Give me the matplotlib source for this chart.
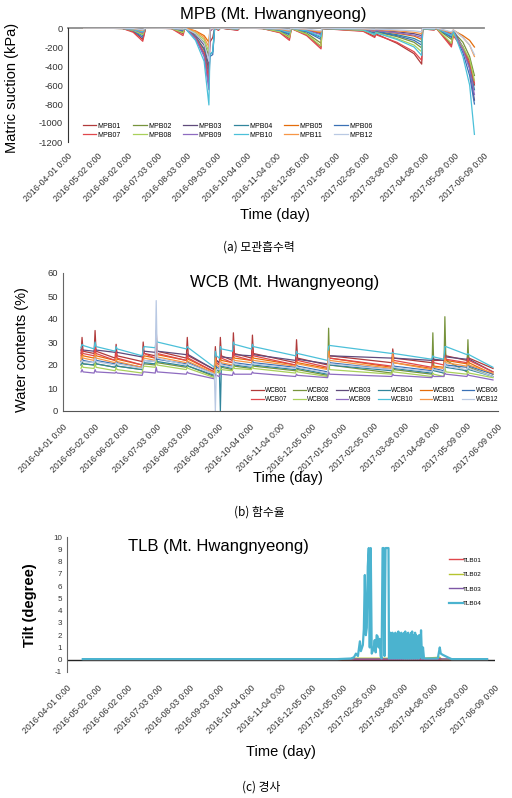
import matplotlib
matplotlib.use("Agg")
import matplotlib.pyplot as plt
import pandas as pd

plt.rcParams['font.family'] = ['Liberation Sans', 'Noto Sans CJK KR', 'DejaVu Sans']

# x축 눈금 (엑셀 날짜축)
tick_dates = ['2016-04-01', '2016-05-02', '2016-06-02', '2016-07-03', '2016-08-03',
              '2016-09-03', '2016-10-04', '2016-11-04', '2016-12-05', '2017-01-05',
              '2017-02-05', '2017-03-08', '2017-04-08', '2017-05-09', '2017-06-09']
tick_labels = [d + ' 0:00' for d in tick_dates]

# ---- (a) MPB 모관흡수력 (kPa) ----
mpb_dates = ['2016-04-17', '2016-05-28', '2016-06-08', '2016-06-18', '2016-06-21', '2016-07-18',
             '2016-07-30', '2016-08-01', '2016-08-12', '2016-08-21', '2016-08-26', '2016-08-27',
             '2016-08-30', '2016-09-01', '2016-09-05', '2016-09-07', '2016-09-25', '2016-09-27',
             '2016-10-21', '2016-11-08', '2016-11-18', '2016-11-20', '2016-12-06', '2016-12-21',
             '2016-12-22', '2017-02-03', '2017-02-15', '2017-02-16', '2017-03-10', '2017-03-28',
             '2017-04-05', '2017-04-06', '2017-04-18', '2017-04-20', '2017-05-06', '2017-05-08',
             '2017-05-18', '2017-05-25', '2017-05-30']
mpb01 = [0, -5, -35, -120, 0, -5, -60, 0, -90, -220, -450, -150, -100, 0, -20, 0, -20, 0, -5, -45,
         -110, -5, -70, -200, -5, -30, -90, -60, -160, -270, -380, -10, -20, 0, -180, -60, -200, -350, -600]
mpb02 = [0, -5, -20, -60, 0, -5, -40, 0, -60, -150, -300, -20, 0, 0, -15, 0, -15, 0, -5, -35,
         -90, -5, -55, -160, -5, -25, -60, -40, -90, -150, -210, -10, -15, 0, -120, -40, -150, -300, -500]
mpb03 = [0, -3, -15, -40, 0, -3, -15, 0, -70, -180, -400, -30, 0, 0, -10, 0, -10, 0, -3, -15,
         -40, -3, -20, -60, -3, -15, -30, -25, -40, -60, -80, -5, -10, 0, -60, -30, -200, -420, -760]
mpb04 = [0, -4, -25, -80, 0, -4, -20, 0, -90, -230, -500, -280, -250, 0, -15, 0, -15, 0, -4, -25,
         -60, -4, -35, -100, -4, -20, -50, -35, -70, -110, -150, -8, -15, 0, -90, -40, -220, -400, -650]
mpb05 = [0, -3, -10, -30, 0, -3, -15, 0, -30, -80, -150, -20, 0, 0, -8, 0, -8, 0, -3, -12,
         -30, -3, -18, -50, -3, -15, -35, -25, -55, -85, -120, -5, -10, 0, -50, -25, -80, -130, -200]
mpb06 = [0, -5, -30, -100, 0, -5, -30, 0, -110, -280, -600, -300, -280, 0, -20, 0, -20, 0, -5, -30,
         -70, -5, -40, -120, -5, -25, -60, -40, -80, -130, -180, -10, -15, 0, -100, -40, -260, -500, -800]
mpb07 = [0, -5, -45, -140, 0, -6, -80, 0, -100, -260, -550, -40, 0, 0, -25, 0, -25, 0, -6, -50,
         -130, -6, -80, -220, -6, -35, -100, -70, -150, -250, -340, -10, -20, 0, -200, -80, -220, -380, -580]
mpb08 = [0, -5, -25, -70, 0, -5, -50, 0, -50, -120, -250, -20, 0, 0, -15, 0, -15, 0, -5, -40,
         -100, -5, -65, -190, -5, -25, -70, -45, -110, -180, -250, -10, -15, 0, -160, -60, -200, -330, -550]
mpb09 = [0, -4, -18, -50, 0, -4, -20, 0, -110, -300, -650, -40, 0, 0, -10, 0, -10, 0, -4, -18,
         -40, -4, -25, -70, -4, -15, -35, -25, -50, -75, -100, -6, -10, 0, -70, -30, -230, -430, -700]
mpb10 = [0, -4, -15, -40, 0, -4, -15, 0, -130, -350, -810, -280, -250, 0, -10, 0, -10, 0, -4, -20,
         -50, -4, -30, -90, -4, -20, -70, -50, -120, -200, -290, -8, -15, 0, -80, -30, -300, -600, -1120]
mpb11 = [0, -3, -8, -25, 0, -3, -10, 0, -35, -100, -200, -15, 0, 0, -6, 0, -6, 0, -3, -12,
         -30, -3, -15, -40, -3, -10, -20, -15, -30, -45, -60, -4, -8, 0, -50, -20, -100, -180, -300]
mpb12 = [0, -2, -6, -20, 0, -2, -10, 0, -60, -160, -350, -15, 0, 0, -5, 0, -5, 0, -2, -8,
         -20, -2, -12, -30, -2, -8, -15, -12, -20, -30, -40, -3, -6, 0, -40, -20, -100, -180, -280]

# ---- (b) WCB 함수율 (%) ----
wcb_dates = ['2016-04-19', '2016-04-20', '2016-04-21', '2016-05-02', '2016-05-03', '2016-05-04',
             '2016-05-23', '2016-05-24', '2016-05-25', '2016-06-19', '2016-06-20', '2016-06-21',
             '2016-07-02', '2016-07-03', '2016-07-04', '2016-08-02', '2016-08-03', '2016-08-04',
             '2016-08-30', '2016-08-31', '2016-09-01', '2016-09-04', '2016-09-05', '2016-09-06',
             '2016-09-17', '2016-09-18', '2016-09-19', '2016-10-06', '2016-10-07', '2016-10-08',
             '2016-11-19', '2016-11-20', '2016-11-21', '2016-12-21', '2016-12-22', '2016-12-23',
             '2017-02-23', '2017-02-24', '2017-02-25', '2017-04-04', '2017-04-05', '2017-04-06',
             '2017-04-16', '2017-04-17', '2017-04-18', '2017-05-09', '2017-05-10', '2017-05-11',
             '2017-06-04']
wcb01 = [25, 32, 26, 25, 35, 26, 23, 29, 24, 21.5, 30, 25, 24, 35, 26, 23, 32, 24, 18, 28, 22, 21, 32, 24,
         22, 34, 25, 23, 33, 25, 21, 31, 23, 20, 25, 24, 21, 27, 23, 21, 24, 22, 22, 26, 24, 22, 25, 23, 18.5]
wcb02 = [20, 22, 20.5, 20, 23, 20.5, 19, 21, 19.5, 18, 20, 20.5, 20, 23, 21, 19, 20, 19.5, 15, 20, 18, 17, 20, 19,
         18, 21, 19.5, 18.5, 20, 19.5, 17.5, 19, 18, 15.5, 36, 20, 16.5, 22, 18, 16, 34, 18, 16.5, 41, 22, 17, 31, 19, 15]
wcb03 = [26.5, 27, 26.5, 26, 27, 26.5, 25.5, 26, 25.5, 23.5, 25, 26, 25.5, 27, 26, 24.5, 25, 24.5, 18, 23, 22, 21,
         24, 23.5, 23, 25, 24.5, 24, 25, 24.5, 22, 23, 22.5, 20.5, 24, 24, 23, 23.5, 23, 22, 23, 22.5, 22, 24, 23.5,
         22.5, 23, 22.5, 17]
wcb04 = [20, 21, 20.5, 20, 22, 20.5, 19, 20, 19.5, 18, 20, 21, 20.5, 23, 21.5, 19.5, 20, 19.5, 15.5, 21, 18, 17.5,
         0, 19.5, 18.5, 21, 20, 19, 20.5, 20, 18, 19, 18.5, 16, 22, 20, 17.5, 20, 18.5, 16.5, 18, 17.5, 16.5, 20, 19,
         17.5, 19, 18, 15]
wcb05 = [23, 25, 24, 23, 26, 24, 22, 24, 22.5, 20, 23, 24, 23, 26, 24.5, 22, 23, 22.5, 17, 24, 21, 20, 23, 22,
         21, 24, 23, 22, 24, 23, 20, 22, 21, 18.5, 27, 23, 19, 24, 21, 18.5, 20, 19.5, 19, 24, 22, 20.5, 22, 21, 16]
wcb06 = [21.5, 23, 22, 21, 24, 22, 20.5, 22, 21, 19, 21, 22, 21.5, 24, 22.5, 20.5, 21.5, 21, 16, 22, 19, 18.5, 21,
         20.5, 19.5, 22, 21, 20, 22, 21, 19, 20, 19.5, 17, 24, 21, 18, 22, 19.5, 17.5, 19, 18.5, 17.5, 22, 20, 19, 20,
         19.5, 16]
wcb07 = [24, 27, 25, 24, 28, 25, 22, 26, 23, 20, 26, 25, 23, 27, 25, 22, 25, 23, 17, 24, 21, 20, 25, 23,
         21, 27, 24, 22, 26, 24, 20, 23, 22, 19, 25, 23, 19.5, 25, 22, 19, 22, 21, 20, 24, 22.5, 21, 23, 22, 17]
wcb08 = [18.5, 20, 19, 18.5, 21, 19, 17.5, 19, 18, 16.5, 19, 19.5, 19, 22, 20, 18, 19, 18.5, 14.5, 19, 17, 16.5, 19,
         18, 17.5, 20, 18.5, 18, 19.5, 18.5, 16.5, 18, 17, 15, 25, 18, 16, 19, 17, 15, 16.5, 16, 15, 19, 17, 16, 17.5,
         16.5, 14.5]
wcb09 = [17, 18, 17, 16.5, 18, 17, 16.5, 17, 16.5, 15.5, 17, 17, 16.5, 19, 17, 16, 17, 16.5, 14, 16, 15.5, 15, 16.5,
         16, 15.5, 17, 16, 16, 17, 16.5, 15, 16, 15.5, 14.5, 17, 16, 15, 16, 15.5, 14.5, 15.5, 15, 15, 16.5, 16, 15, 16,
         15.5, 13.5]
wcb10 = [27.5, 29, 28.5, 27, 30, 28, 26, 28, 27, 24, 27, 28, 27.5, 31, 30, 27, 28, 27.5, 19, 26, 24, 23, 28, 27,
         26, 30, 29, 27, 29, 28, 24, 26, 25, 22, 28, 28.5, 25, 25.5, 25, 22.5, 24, 23.5, 22.5, 28, 28, 24.5, 25, 24.5, 19]
wcb11 = [22, 24, 23, 22, 25, 23, 21, 23, 21.5, 19, 22, 23, 22, 25, 23.5, 21, 22, 21.5, 16.5, 23, 20, 19, 22, 21,
         20, 23, 22, 21, 23, 22, 19.5, 21, 20.5, 18, 26, 22, 18.5, 25, 21, 18, 19.5, 19, 18.5, 23, 21, 19.5, 21, 20, 16.5]
wcb12 = [21, 22, 21.5, 21, 23, 21.5, 20, 21, 20.5, 18.5, 21, 22, 21.5, 48, 23, 20, 21, 20.5, 16, 0, 18, 18, 21, 20,
         19, 22, 20.5, 19.5, 21, 20.5, 18.5, 19.5, 19, 16.5, 23, 20.5, 18, 21, 19, 17, 18.5, 18, 17, 21, 19.5, 18, 19.5,
         18.5, 15]

# ---- (c) TLB 경사 (degree) ----
tlb_dates = ['2016-04-17', '2017-01-16', '2017-01-17', '2017-03-08', '2017-03-09', '2017-04-14',
             '2017-04-16', '2017-06-01']
tlb01 = [0.02, 0.02, 0.02, 0.02, 0.02, 0.02, 0.02, 0.02]
tlb02 = [0.03, 0.03, 0.12, 0.12, 0.03, 0.2, 0.03, 0.03]
tlb03 = [0.05, 0.05, 0.06, 0.06, 0.05, 0.08, 0.06, 0.06]

tlb04_dates_a = ['2016-04-17', '2016-12-31', '2017-01-14', '2017-01-17', '2017-01-19', '2017-01-21',
                 '2017-01-23', '2017-01-24', '2017-01-26', '2017-01-27', '2017-01-28', '2017-01-29',
                 '2017-01-30', '2017-01-31', '2017-02-01', '2017-02-02', '2017-02-03', '2017-02-04',
                 '2017-02-06', '2017-02-07', '2017-02-08', '2017-02-09', '2017-02-10', '2017-02-11',
                 '2017-02-12', '2017-02-13', '2017-02-14', '2017-02-15', '2017-02-16', '2017-02-17',
                 '2017-02-18', '2017-02-21', '2017-02-21 12:00']
tlb04_vals_a = [0.05, 0.05, 0.1, 0.2, 0.5, 0.3, 1.5, 0.7, 1.2, 2.5, 6.9, 2.0, 2.6, 7.6, 9.1, 1.0, 9.1, 0.5,
                0.9, 1.6, 0.6, 2.0, 1.9, 1.0, 1.7, 0.3, 0.1, 9.1, 9.1, 0.3, 9.1, 9.1, 0.1]
# 2017-02-22 부터 12시간 간격 진동 구간
tlb04_dense_start = '2017-02-22'
tlb04_dense = [2.1, 0.2, 2.2, 0.1, 2.0, 0.3, 2.2, 0.1, 2.1, 0.2, 1.9, 0.1, 2.2, 0.2, 2.1, 0.1, 2.0, 0.2,
               2.3, 0.1, 2.1, 0.2, 2.0, 0.1, 2.2, 0.3, 2.1, 0.1, 1.9, 0.2, 2.2, 0.1, 2.3, 0.2, 2.0, 0.1,
               2.1, 0.2, 2.2, 0.1, 1.9, 0.2, 2.0, 0.1, 2.2, 0.2, 2.3, 0.1, 2.0, 0.2, 1.8, 0.1, 2.2, 0.2,
               2.0, 0.1, 1.7, 0.2, 1.9, 0.1, 2.0]
tlb04_dates_b = ['2017-03-25', '2017-03-26', '2017-03-27', '2017-03-28', '2017-03-29', '2017-04-12',
                 '2017-04-14', '2017-04-15', '2017-04-17', '2017-04-22', '2017-04-26', '2017-06-01']
tlb04_vals_b = [0.2, 2.4, 0.1, 1.0, 0.1, 0.1, 1.0, 0.5, 0.4, 0.2, 0.05, 0.05]

mpb_names = ['MPB%02d' % i for i in range(1, 13)]
wcb_names = ['WCB%02d' % i for i in range(1, 13)]
tlb_names = ['TLB01', 'TLB02', 'TLB03', 'TLB04']
colors12 = ['#B03A3A', '#77933C', '#5F4A7B', '#31859C', '#E46C0A', '#3A70B5',
            '#E0474C', '#A9D05A', '#8E6BC0', '#4BC0D9', '#F79646', '#B9C9E3']
tlb_colors = ['#E0474C', '#B5C42F', '#7E57A6', '#4BB3CF']

W, H = 512, 798
fig = plt.figure(figsize=(W / 100, H / 100), dpi=100)


def box(l, t, r, b):
    return [l / W, 1 - b / H, (r - l) / W, (b - t) / H]


def date_axis(ax, pad):
    ax.set_xlim(pd.Timestamp('2016-04-01'), pd.Timestamp('2017-06-09'))
    ax.set_xticks(pd.to_datetime(tick_dates))
    ax.set_xticklabels(tick_labels, rotation=45, ha='right', va='top',
                       rotation_mode='anchor', fontsize=6.3, color='#333333')
    ax.tick_params(axis='x', length=0, pad=pad)
    ax.tick_params(axis='y', length=0, colors='#333333')
    for s in ['top', 'right']:
        ax.spines[s].set_visible(False)


def row_order(n, ncol):
    rows = n // ncol
    return [r * ncol + c for c in range(ncol) for r in range(rows)]


# (a)
ax1 = fig.add_axes(box(68, 28, 484, 142))
x = pd.to_datetime(mpb_dates)
for name, vals, c in zip(mpb_names, [mpb01, mpb02, mpb03, mpb04, mpb05, mpb06,
                                      mpb07, mpb08, mpb09, mpb10, mpb11, mpb12], colors12):
    ax1.plot(x, vals, color=c, lw=0.9, label=name)
ax1.set_ylim(-1200, 0)
ax1.set_yticks(range(-1200, 1, 200))
ax1.set_yticklabels([str(v) for v in range(-1200, 1, 200)], fontsize=6.8)
ax1.axhline(0, color='#8c8c8c', lw=1.3, clip_on=False, zorder=0)
date_axis(ax1, 7)
ax1.spines['bottom'].set_visible(False)
ax1.spines['left'].set_color('#333333')
h, l = ax1.get_legend_handles_labels()
o = row_order(12, 6)
ax1.legend([h[i] for i in o], [l[i] for i in o], ncol=6, loc='lower left',
           bbox_to_anchor=(0.035, 0.03), frameon=False, fontsize=5, handlelength=2.0,
           handletextpad=0.2, columnspacing=1.7, labelspacing=0.25, borderpad=0, borderaxespad=0)
fig.text(273 / W, 1 - 15 / H, 'MPB (Mt. Hwangnyeong)', ha='center', va='center', fontsize=12)
fig.text(12 / W, 1 - 88 / H, 'Matric suction (kPa)', rotation=90, ha='center', va='center', fontsize=10.5)
fig.text(275 / W, 1 - 215 / H, 'Time (day)', ha='center', va='center', fontsize=10.5)
fig.text(259 / W, 1 - 247 / H, '(a) 모관흡수력', ha='center', va='center', fontsize=8.5,
         family=['Noto Sans CJK KR', 'DejaVu Sans'])

# (b)
ax2 = fig.add_axes(box(63, 273, 498, 411))
x = pd.to_datetime(wcb_dates)
for name, vals, c in zip(wcb_names, [wcb01, wcb02, wcb03, wcb04, wcb05, wcb06,
                                      wcb07, wcb08, wcb09, wcb10, wcb11, wcb12], colors12):
    ax2.plot(x, vals, color=c, lw=0.9, label=name)
ax2.set_ylim(0, 60)
ax2.set_yticks(range(0, 61, 10))
ax2.set_yticklabels([str(v) for v in range(0, 61, 10)], fontsize=6.8)
date_axis(ax2, 8)
ax2.spines['bottom'].set_color('#555555')
ax2.spines['left'].set_color('#666666')
h, l = ax2.get_legend_handles_labels()
ax2.legend([h[i] for i in o], [l[i] for i in o], ncol=6, loc='lower right',
           bbox_to_anchor=(1.0, 0.055), frameon=False, fontsize=4.7, handlelength=1.9,
           handletextpad=0.2, columnspacing=0.9, labelspacing=0.3, borderpad=0, borderaxespad=0)
fig.text(285 / W, 1 - 283 / H, 'WCB (Mt. Hwangnyeong)', ha='center', va='center', fontsize=12)
fig.text(22 / W, 1 - 350 / H, 'Water contents (%)', rotation=90, ha='center', va='center', fontsize=10.5)
fig.text(288 / W, 1 - 478 / H, 'Time (day)', ha='center', va='center', fontsize=10.5)
fig.text(259 / W, 1 - 512 / H, '(b) 함수율', ha='center', va='center', fontsize=8.5,
         family=['Noto Sans CJK KR', 'DejaVu Sans'])

# (c)
ax3 = fig.add_axes(box(67, 537, 495, 672))
x = pd.to_datetime(tlb_dates)
for name, vals, c in zip(tlb_names[:3], [tlb01, tlb02, tlb03], tlb_colors[:3]):
    ax3.plot(x, vals, color=c, lw=1.0, label=name)
x4 = list(pd.to_datetime(tlb04_dates_a, format='mixed')) + \
     list(pd.date_range(tlb04_dense_start, periods=len(tlb04_dense), freq='12h')) + \
     list(pd.to_datetime(tlb04_dates_b))
y4 = tlb04_vals_a + tlb04_dense + tlb04_vals_b
ax3.plot(x4, y4, color=tlb_colors[3], lw=1.6, label=tlb_names[3])
ax3.set_ylim(-1, 10)
ax3.set_yticks(range(-1, 11))
ax3.set_yticklabels([str(v) for v in range(-1, 11)], fontsize=5.8)
ax3.axhline(0, color='#222222', lw=1.0, zorder=0)
date_axis(ax3, 8)
ax3.spines['bottom'].set_visible(False)
ax3.spines['left'].set_color('#666666')
ax3.legend(loc='upper left', bbox_to_anchor=(0.893, 0.85), frameon=False, fontsize=4.6,
           handlelength=2.1, handletextpad=0.05, labelspacing=1.4, borderpad=0, borderaxespad=0)
fig.text(218 / W, 1 - 546 / H, 'TLB (Mt. Hwangnyeong)', ha='center', va='center', fontsize=12)
fig.text(30 / W, 1 - 605 / H, 'Tilt (degree)', rotation=90, ha='center', va='center', fontsize=10.5,
         fontweight='bold')
fig.text(281 / W, 1 - 752 / H, 'Time (day)', ha='center', va='center', fontsize=10.5)
fig.text(261 / W, 1 - 787 / H, '(c) 경사', ha='center', va='center', fontsize=8.5,
         family=['Noto Sans CJK KR', 'DejaVu Sans'])

fig.savefig('out.png', dpi=100, facecolor='white')
